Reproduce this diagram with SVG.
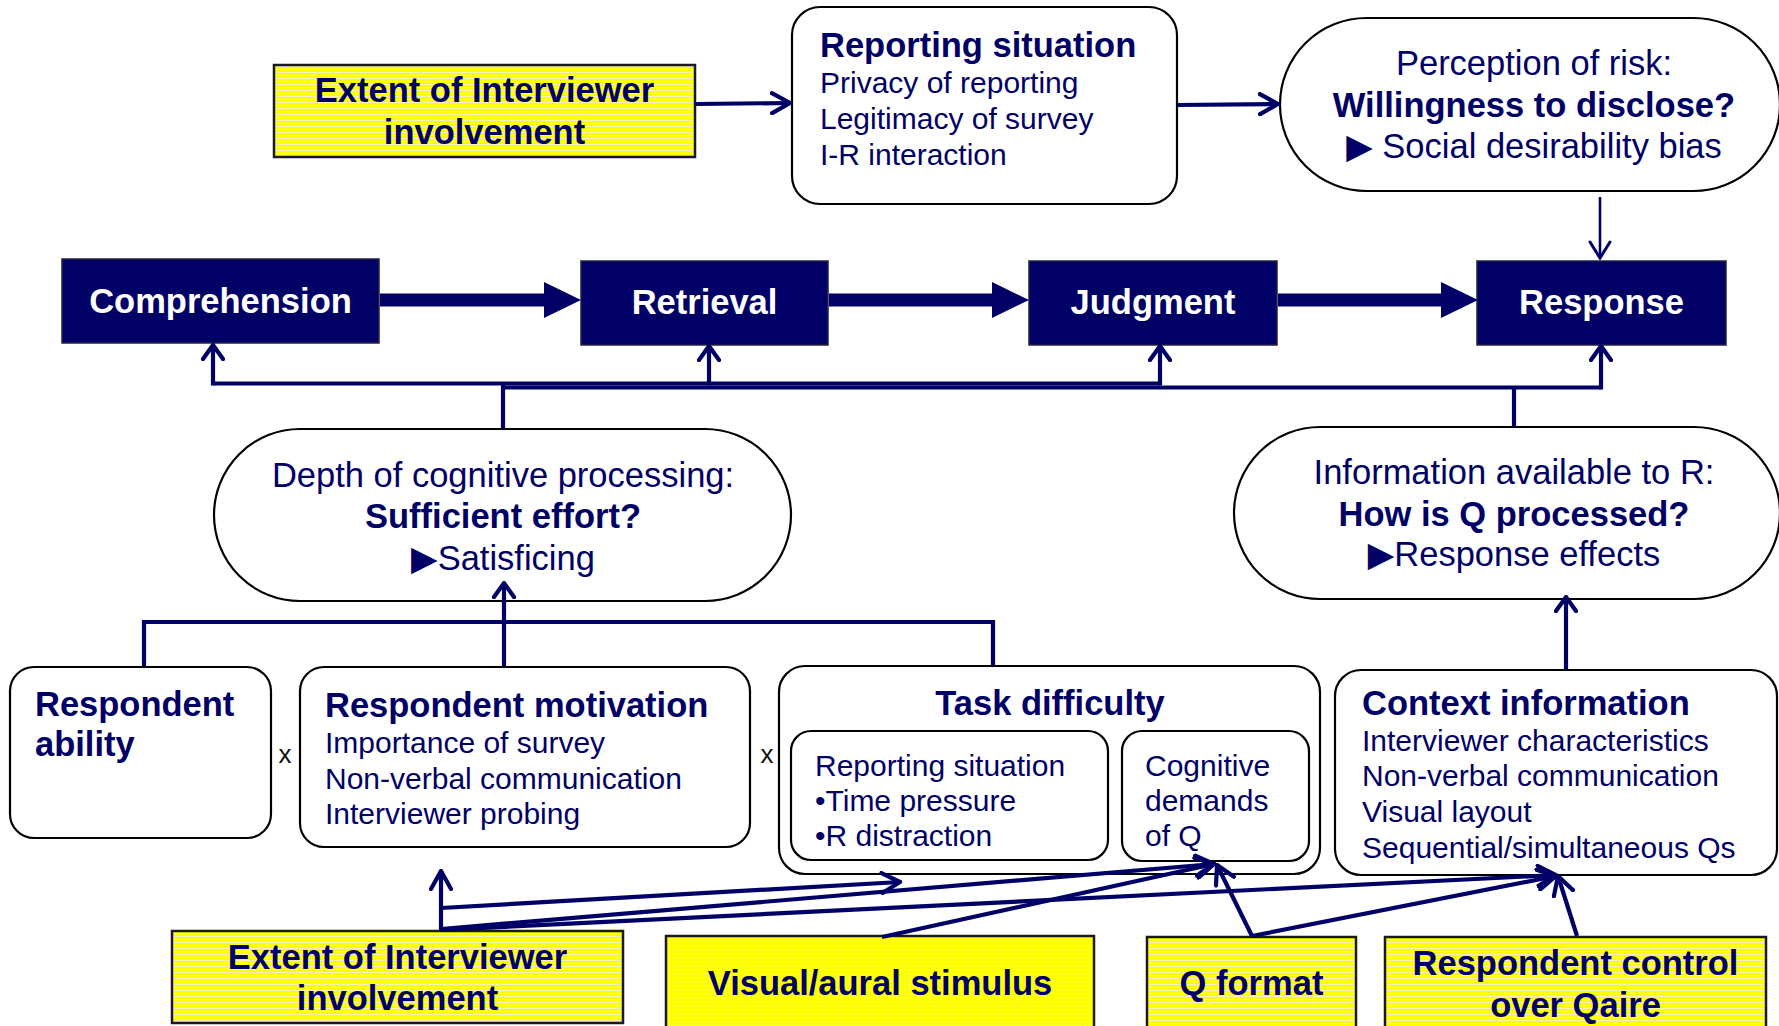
<svg xmlns="http://www.w3.org/2000/svg" width="1779" height="1026" viewBox="0 0 1779 1026">
<style>
  .t { font-family: "Liberation Sans", Arial, "DejaVu Sans", sans-serif; fill: #000066; }
  .b { font-weight: bold; font-size: 34.5px; }
  .L { font-size: 34.5px; }
  .r { font-size: 30px; }
  .w { fill: #ffffff; }
  .m { text-anchor: middle; }
  .box { fill: #ffffff; stroke: #000000; stroke-width: 2.2; }
  .proc { fill: #000066; stroke: #222244; stroke-width: 1.5; }
  .yel { stroke: #1a1a1a; stroke-width: 2.5; }
  .ln { fill: none; stroke: #000066; stroke-width: 4.2; }
  .thin { fill: none; stroke: #000066; stroke-width: 2.6; }
  .xx { font-family: "Liberation Sans", Arial, sans-serif; font-size: 26px; fill: #111111; text-anchor: middle; }
</style>
<defs>
  <pattern id="hl" width="4" height="3" patternUnits="userSpaceOnUse">
    <rect width="4" height="3" fill="#ffff00"/>
    <rect y="0" width="4" height="1" fill="#f3f3b8"/>
  </pattern>
  <pattern id="dt" width="4" height="4" patternUnits="userSpaceOnUse">
    <rect width="4" height="4" fill="#ffff00"/>
    <rect x="1" y="1" width="1" height="1" fill="#f7f7c4"/>
  </pattern>
  <marker id="ah" viewBox="0 0 22 24" refX="20" refY="12" markerWidth="22" markerHeight="24" markerUnits="userSpaceOnUse" orient="auto">
    <path d="M2,2 L20,12 L2,22" fill="none" stroke="#000066" stroke-width="4.2" stroke-linecap="round"/>
  </marker>
  <marker id="ahs" viewBox="0 0 18 24" refX="16" refY="12" markerWidth="18" markerHeight="24" markerUnits="userSpaceOnUse" orient="auto">
    <path d="M2,2 L16,12 L2,22" fill="none" stroke="#000066" stroke-width="4.2" stroke-linecap="round"/>
  </marker>
  <marker id="aht" viewBox="0 0 20 24" refX="18" refY="12" markerWidth="20" markerHeight="24" markerUnits="userSpaceOnUse" orient="auto">
    <path d="M2,2 L18,12 L2,22" fill="none" stroke="#000066" stroke-width="3" stroke-linecap="round"/>
  </marker>
</defs>
<rect width="1779" height="1026" fill="#ffffff"/>

<g id="extent-top">
  <rect class="yel" x="274" y="65" width="421" height="92" fill="url(#hl)"/>
  <text class="t b m" x="484.5" y="102">Extent of Interviewer</text>
  <text class="t b m" x="484.5" y="144">involvement</text>
</g>

<g id="reporting-situation">
  <rect class="box" x="792" y="7" width="385" height="197" rx="28"/>
  <text class="t b" x="820" y="57">Reporting situation</text>
  <text class="t r" x="820" y="93">Privacy of reporting</text>
  <text class="t r" x="820" y="129">Legitimacy of survey</text>
  <text class="t r" x="820" y="165">I-R interaction</text>
</g>

<g id="perception-of-risk">
  <rect class="box" x="1280" y="18" width="500" height="173" rx="86.5"/>
  <text class="t L m" x="1534" y="75">Perception of risk:</text>
  <text class="t b m" x="1534" y="117">Willingness to disclose?</text>
  <text class="t L m" x="1534" y="158">▶ Social desirability bias</text>
</g>

<g id="comprehension">
  <rect class="proc" x="62" y="259" width="317" height="84"/>
  <text class="t b w m" x="220.5" y="313">Comprehension</text>
</g>
<g id="retrieval">
  <rect class="proc" x="581" y="261" width="247" height="84"/>
  <text class="t b w m" x="704.5" y="314">Retrieval</text>
</g>
<g id="judgment">
  <rect class="proc" x="1029" y="261" width="248" height="84"/>
  <text class="t b w m" x="1153" y="314">Judgment</text>
</g>
<g id="response">
  <rect class="proc" x="1477" y="261" width="249" height="84"/>
  <text class="t b w m" x="1601.5" y="314">Response</text>
</g>

<g id="depth-of-processing">
  <rect class="box" x="214" y="429" width="577" height="172" rx="86"/>
  <text class="t L m" x="503" y="487">Depth of cognitive processing:</text>
  <text class="t b m" x="503" y="528">Sufficient effort?</text>
  <text class="t L m" x="503" y="570">▶Satisficing</text>
</g>

<g id="information-available">
  <rect class="box" x="1234" y="427" width="546" height="172" rx="86"/>
  <text class="t L m" x="1514" y="484">Information available to R:</text>
  <text class="t b m" x="1514" y="526">How is Q processed?</text>
  <text class="t L m" x="1514" y="566">▶Response effects</text>
</g>

<g id="respondent-ability">
  <rect class="box" x="10" y="667" width="261" height="171" rx="24"/>
  <text class="t b" x="35" y="716">Respondent</text>
  <text class="t b" x="35" y="756">ability</text>
</g>
<text class="xx" x="285" y="763">x</text>

<g id="respondent-motivation">
  <rect class="box" x="300" y="667" width="450" height="180" rx="24"/>
  <text class="t b" x="325" y="717">Respondent motivation</text>
  <text class="t r" x="325" y="753">Importance of survey</text>
  <text class="t r" x="325" y="789">Non-verbal communication</text>
  <text class="t r" x="325" y="824">Interviewer probing</text>
</g>
<text class="xx" x="767" y="763">x</text>

<g id="task-difficulty">
  <rect class="box" x="779" y="666" width="541" height="208" rx="26"/>
  <text class="t b m" x="1050" y="715">Task difficulty</text>
  <g id="task-reporting-situation">
    <rect class="box" x="791" y="731" width="317" height="129" rx="20"/>
    <text class="t r" x="815" y="776">Reporting situation</text>
    <text class="t r" x="815" y="811">•Time pressure</text>
    <text class="t r" x="815" y="846">•R distraction</text>
  </g>
  <g id="task-cognitive-demands">
    <rect class="box" x="1122" y="731" width="187" height="130" rx="20"/>
    <text class="t r" x="1145" y="776">Cognitive</text>
    <text class="t r" x="1145" y="811">demands</text>
    <text class="t r" x="1145" y="846">of Q</text>
  </g>
</g>

<g id="context-information">
  <rect class="box" x="1335" y="670" width="442" height="205" rx="26"/>
  <text class="t b" x="1362" y="715">Context information</text>
  <text class="t r" x="1362" y="751">Interviewer characteristics</text>
  <text class="t r" x="1362" y="786">Non-verbal communication</text>
  <text class="t r" x="1362" y="822">Visual layout</text>
  <text class="t r" x="1362" y="858">Sequential/simultaneous Qs</text>
</g>

<g id="extent-bottom">
  <rect class="yel" x="172" y="931" width="451" height="92" fill="url(#hl)"/>
  <text class="t b m" x="397.5" y="969">Extent of Interviewer</text>
  <text class="t b m" x="397.5" y="1010">involvement</text>
</g>

<g id="visual-aural-stimulus">
  <rect class="yel" x="666" y="936" width="428" height="110" fill="url(#dt)"/>
  <text class="t b m" x="880" y="995">Visual/aural stimulus</text>
</g>

<g id="q-format">
  <rect class="yel" x="1147" y="937" width="209" height="110" fill="url(#hl)"/>
  <text class="t b m" x="1251.5" y="995">Q format</text>
</g>

<g id="respondent-control">
  <rect class="yel" x="1385" y="937" width="381" height="110" fill="url(#hl)"/>
  <text class="t b m" x="1575.5" y="975">Respondent control</text>
  <text class="t b m" x="1575.5" y="1017">over Qaire</text>
</g>

<g id="connectors">
  <!-- top arrows -->
  <path class="ln" d="M695,104 L790,103" marker-end="url(#ah)"/>
  <path class="ln" d="M1177,105 L1278,104" marker-end="url(#ah)"/>
  <path class="thin" d="M1600,197 L1600,258" marker-end="url(#aht)"/>
  <!-- thick process arrows -->
  <polygon fill="#000066" points="380,293.5 544,293.5 544,282 581,300 544,318 544,306.5 380,306.5"/>
  <polygon fill="#000066" points="829,293.5 992,293.5 992,282 1029,300 992,318 992,306.5 829,306.5"/>
  <polygon fill="#000066" points="1278,293.5 1441,293.5 1441,282 1478,300 1441,318 1441,306.5 1278,306.5"/>
  <!-- feedback to process boxes -->
  <path class="ln" d="M213,383.5 L1160,383.5"/>
  <path class="ln" d="M503,387.5 L1601,387.5"/>
  <path class="ln" d="M503,428 L503,383.5"/>
  <path class="ln" d="M1514,426 L1514,387.5"/>
  <path class="ln" d="M213,385.5 L213,345" marker-end="url(#ahs)"/>
  <path class="ln" d="M709,385.5 L709,346" marker-end="url(#ahs)"/>
  <path class="ln" d="M1160,385.5 L1160,346" marker-end="url(#ahs)"/>
  <path class="ln" d="M1601,389.5 L1601,346" marker-end="url(#ahs)"/>
  <!-- bracket to depth -->
  <path class="ln" d="M144,666 L144,622 L993,622 L993,665"/>
  <path class="ln" d="M504,666 L504,583" marker-end="url(#ahs)"/>
  <!-- context to info -->
  <path class="ln" d="M1566,669 L1566,597" marker-end="url(#ahs)"/>
  <!-- bottom connectors -->
  <path class="ln" d="M441,931 L441,871" marker-end="url(#ah)"/>
  <path class="ln" d="M441,908 L900,882" marker-end="url(#ah)"/>
  <path class="ln" d="M441,929 L1214,864" marker-end="url(#ah)"/>
  <path class="ln" d="M441,930 L1556,875" marker-end="url(#ah)"/>
  <path class="ln" d="M882,937 L1214,864" marker-end="url(#ah)"/>
  <path class="ln" d="M1252,936 L1217,865" marker-end="url(#ah)"/>
  <path class="ln" d="M1252,936 L1556,876" marker-end="url(#ah)"/>
  <path class="ln" d="M1577,936 L1558,876" marker-end="url(#ah)"/>
</g>
</svg>
